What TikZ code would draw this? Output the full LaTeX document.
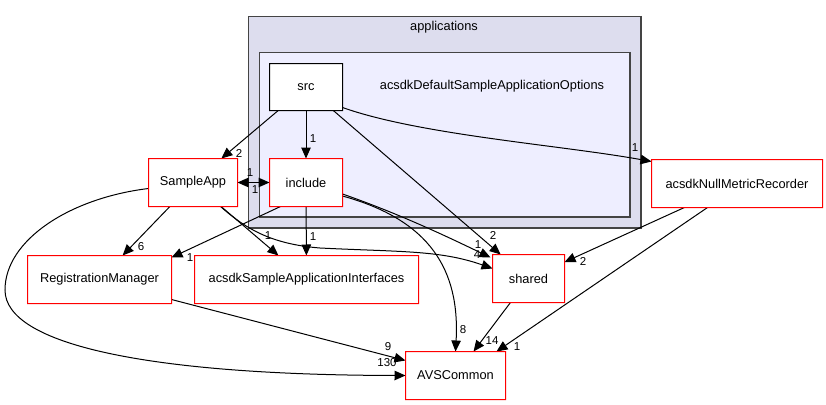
\documentclass[tikz,border=0pt]{standalone}
\usepackage{fontspec}
\setmainfont{Liberation Sans}
\usetikzlibrary{arrows.meta}
\definecolor{clouter}{HTML}{DDDDEE}
\definecolor{clinner}{HTML}{EEEEFF}
\definecolor{clborder}{HTML}{444444}
\definecolor{dirred}{HTML}{FF0000}
\begin{document}
\begin{tikzpicture}[x=1pt,y=-1pt,
  dirbox/.style={draw=none, fill=white, rectangle, outer sep=0pt, minimum height=48pt, inner sep=0pt, font=\fontsize{12.8}{15}\selectfont},
  srcbox/.style={dirbox},
  redring/.style={fill=dirred, even odd rule},
  blackring/.style={fill=black, even odd rule},
  lbl/.style={inner sep=0pt, font=\fontsize{11.5}{13}\selectfont},
  ttl/.style={inner sep=0pt, font=\fontsize{12.8}{15}\selectfont},
  conn/.style={draw=black, line width=1pt, -{Triangle[length=11pt,width=9.5pt]}}]
\useasboundingbox (0,0) rectangle (826,404);
% clusters
\filldraw[fill=clouter, draw=clborder, line width=1pt] (248.5,16.5) rectangle (640.5,227.5);
\draw[clborder, line width=2pt] (641,16) -- (641,228) -- (248,228);
\filldraw[fill=clinner, draw=clborder, line width=1pt] (259.5,52.5) rectangle (629.5,216.5);
\draw[clborder, line width=2pt] (630,52) -- (630,217) -- (259,217);
\node[ttl] (tapp) at (444,27) {applications};
\node[ttl] (topt) at (492,86) {acsdkDefaultSampleApplicationOptions};
% nodes
\node[srcbox, minimum width=73pt, minimum height=47pt] (src) at (306,87) {src};
\node[dirbox, minimum width=73pt] (inc) at (306,182.5) {include};
\node[dirbox, minimum width=89pt] (sapp) at (193,182.5) {SampleApp};
\node[dirbox, minimum width=144pt] (reg) at (99.5,279.5) {RegistrationManager};
\node[dirbox, minimum width=224pt] (ifc) at (306.5,279.5) {acsdkSampleApplicationInterfaces};
\node[dirbox, minimum width=72pt] (shr) at (528.5,278.5) {shared};
\node[dirbox, minimum width=100pt] (avs) at (455.5,375.5) {AVSCommon};
\node[dirbox, minimum width=171pt] (nmr) at (737,183.5) {acsdkNullMetricRecorder};
% edges
\draw[conn] (src) -- (sapp);
\draw[conn] (src) -- (inc);
\draw[conn] ([yshift=-20.5pt]src.east) .. controls (420,135) and (560,145) .. ([yshift=22pt]nmr.west);
\draw[conn] (src) -- (shr);
\draw[conn] (sapp) -- (inc);
\draw[conn] (inc) -- (sapp);
\draw[conn] (sapp) -- (reg);
\draw[conn] (sapp) -- (ifc);
\draw[conn] ([xshift=27.5pt]sapp.south) .. controls (245,228) and (270,244) .. (320,248) .. controls (400,252) and (440,250) .. ([yshift=10pt]shr.west);
\draw[conn] ([yshift=-6pt]sapp.west) .. controls (70,198) and (5,240) .. (5,290) .. controls (5,345) and (150,375) .. (avs.west);
\draw[conn] ([xshift=-25.5pt]inc.south) -- ([yshift=-2pt]reg.north east);
\draw[conn] (inc) -- (ifc);
\draw[conn] ([yshift=-11.5pt]inc.east) .. controls (400,214) and (450,238) .. ([xshift=-2pt,yshift=-3pt]shr.north west);
\draw[conn] ([yshift=-13.5pt]inc.east) .. controls (430,220) and (460,270) .. (avs.north);
\draw[conn] ([yshift=-20pt]reg.east) -- ([yshift=15pt]avs.west);
\draw[conn] (shr) -- (avs);
\draw[conn] (nmr) -- (shr);
\draw[conn] ([xshift=-29.5pt]nmr.south) -- ([xshift=41pt]avs.north);
% frames as filled rings
\fill[blackring] ([shift={(-0.5pt,-0.5pt)}]src.south west) rectangle ([shift={(0.5pt,0.5pt)}]src.north east)
  ([shift={(0.5pt,0.5pt)}]src.south west) rectangle ([shift={(-0.5pt,-0.5pt)}]src.north east);
\foreach \n in {inc,sapp,reg,ifc,shr,avs,nmr}
  \fill[redring] ([shift={(-0.5pt,-0.5pt)}]\n.south west) rectangle ([shift={(0.5pt,0.5pt)}]\n.north east)
    ([shift={(0.5pt,0.5pt)}]\n.south west) rectangle ([shift={(-0.5pt,-0.5pt)}]\n.north east);
% labels
\node[lbl] (l1) at (239,153) {2};
\node[lbl] (l2) at (313,139) {1};
\node[lbl] (l3) at (635,148) {1};
\node[lbl] (l4) at (493,235) {2};
\node[lbl] (l5) at (250,173) {1};
\node[lbl] (l6) at (255,190) {1};
\node[lbl] (l7) at (141,247) {6};
\node[lbl] (l8) at (268,236) {1};
\node[lbl] (l9) at (477,255) {4};
\node[lbl] (l10) at (387,363) {130};
\node[lbl] (l11) at (190,258) {1};
\node[lbl] (l12) at (313,237) {1};
\node[lbl] (l13) at (478,245) {1};
\node[lbl] (l14) at (463,330) {8};
\node[lbl] (l15) at (388,347) {9};
\node[lbl] (l16) at (492,341) {14};
\node[lbl] (l17) at (583,261) {2};
\node[lbl] (l18) at (517,347) {1};
\end{tikzpicture}
\end{document}
